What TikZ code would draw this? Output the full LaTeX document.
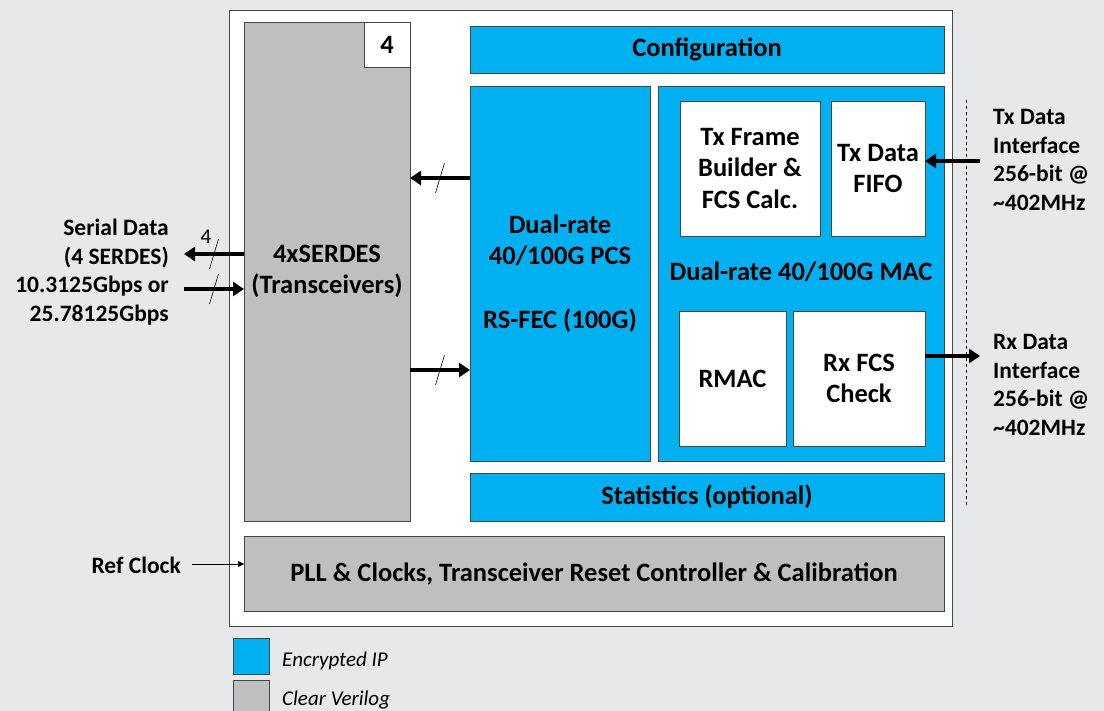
\documentclass[tikz,border=0pt]{standalone}
\usepackage{fontspec}
\setmainfont{Carlito}
\usepackage{tikz}
\usetikzlibrary{arrows.meta, positioning, decorations.markings}
\definecolor{IPCyan}{RGB}{0,176,240}
\definecolor{ClearGray}{RGB}{191,191,191}
\definecolor{PageGray}{RGB}{231,232,234}
\definecolor{EdgeGray}{RGB}{70,70,70}

\begin{document}
\begin{tikzpicture}[x=1pt, y=-1pt,
	font=\fontsize{26.5}{31.5}\selectfont\bfseries,
	blk/.style={draw=EdgeGray, line width=0.9pt, inner sep=0pt, outer sep=0pt,
		anchor=north west, align=center},
	ipblk/.style={blk, fill=IPCyan},
	clrblk/.style={blk, fill=ClearGray},
	subblk/.style={blk, fill=white},
	busarrow/.style={line width=3.5pt, -{Triangle[length=11pt,width=14pt]}},
	busmark/.style={postaction={decorate}, decoration={markings,
		mark=at position #1 with {\draw[line width=0.6pt, arrows=-] (-4.5pt,-15pt) -- (4.5pt,15pt);}}},
	busmark/.default=0.5,
	sidetext/.style={align=left, anchor=west, inner sep=0pt,
		font=\fontsize{23.5}{28.6}\selectfont\bfseries},
	legtext/.style={anchor=west, inner sep=0pt, font=\fontsize{21}{24}\selectfont\itshape},
]
	\fill[PageGray] (0,0) rectangle (1104,711);
	\useasboundingbox (0,0) rectangle (1104,711);

	% marco del core
	\node[blk, fill=white, minimum width=723, minimum height=616] (core) at (229,10) {};

	% bloques
	\node[clrblk, minimum width=166, minimum height=499] (serdes) at (244,22) {4xSERDES\\(Transceivers)};
	\node[subblk, minimum width=46, minimum height=45] (lanes) at (364,22) {4};
	\node[ipblk, minimum width=474, minimum height=47] (config) at (470,26) {Configuration};
	\node[ipblk, minimum width=180, minimum height=375] (pcs) at (470,86)
		{Dual-rate\\40/100G PCS\\[32pt]RS-FEC (100G)};
	\node[ipblk, minimum width=286, minimum height=375] (mac) at (658,86) {};
	\node at (801,272) (maclabel) {Dual-rate 40/100G MAC};
	\node[subblk, minimum width=140, minimum height=135] (txfb) at (680,101)
		{Tx Frame\\Builder \&\\FCS Calc.};
	\node[subblk, minimum width=94, minimum height=135] (txfifo) at (831,101) {Tx Data\\FIFO};
	\node[subblk, minimum width=107, minimum height=135] (rmac) at (679,311) {RMAC};
	\node[subblk, minimum width=132, minimum height=135] (rxfcs) at (793,311) {Rx FCS\\Check};
	\node[ipblk, minimum width=474, minimum height=48] (stats) at (470,473) {Statistics (optional)};
	\node[clrblk, minimum width=700, minimum height=75] (pll) at (244,536)
		{PLL \& Clocks, Transceiver Reset Controller \& Calibration};

	% SERDES <-> PCS
	\draw[busarrow, busmark] (pcs.west |- 0,178) -- (serdes.east |- 0,178);
	\draw[busarrow, busmark] (serdes.east |- 0,370) -- (pcs.west |- 0,370);

	% serial data
	\node[align=right, anchor=east, inner sep=0pt, font=\fontsize{23.5}{28.6}\selectfont\bfseries]
		(serial) at (169,272) {Serial Data\\(4 SERDES)\\10.3125Gbps or\\25.78125Gbps};
	\coordinate (serout) at (184,254);
	\coordinate (serin) at (184,289);
	\draw[busarrow, busmark] (serdes.west |- serout) -- (serout);
	\draw[busarrow, busmark] (serin) -- (serdes.west |- serin);
	\node[font=\fontsize{21}{21}\selectfont] (nlanes) at (206,237) {4};

	% interfaz de usuario
	\draw[dashed, line width=0.6pt] (966,100) -- (966,507);
	\node[sidetext] (txif) at (993,160) {Tx Data\\Interface\\256-bit @\\\textasciitilde402MHz};
	\node[sidetext] (rxif) at (993,385) {Rx Data\\Interface\\256-bit @\\\textasciitilde402MHz};
	\coordinate (txin) at (980,161);
	\coordinate (rxout) at (980,356);
	\draw[busarrow] (txin) -- (txfifo.east |- txin);
	\draw[busarrow] (rxfcs.east |- rxout) -- (rxout);

	% reloj de referencia
	\node[anchor=east, inner sep=0pt, font=\fontsize{23.5}{28.6}\selectfont\bfseries] (refclk) at (181,565) {Ref Clock};
	\draw[line width=0.6pt, -{Triangle[length=6pt,width=6pt]}] ([xshift=11pt,yshift=1pt]refclk.east)
		-- ([yshift=1pt]pll.west |- refclk.east);

	% leyenda
	\node[ipblk, minimum width=36, minimum height=36] (legip) at (233,638) {};
	\node[clrblk, minimum width=36, minimum height=36] (legclr) at (233,680) {};
	\node[legtext] (legiptext) at (282,661) {Encrypted IP};
	\node[legtext] (legclrtext) at (282,700) {Clear Verilog};
\end{tikzpicture}
\end{document}
